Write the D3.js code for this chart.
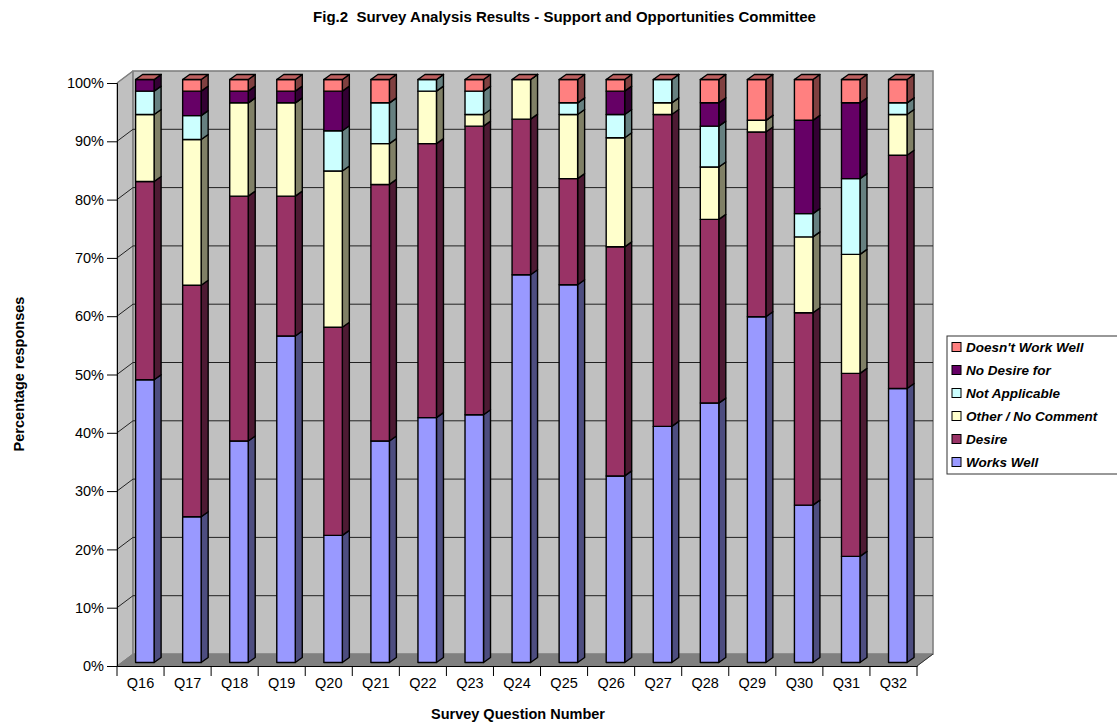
<!DOCTYPE html>
<html><head><meta charset="utf-8">
<script src="https://cdnjs.cloudflare.com/ajax/libs/d3/7.8.5/d3.min.js"></script>
<style>html,body{margin:0;padding:0;background:#fff}svg{display:block}text{font-family:"Liberation Sans",Arial,sans-serif;fill:#000}</style>
</head><body><svg id="c" width="1117" height="725"></svg>
<script>
const questions=["Q16","Q17","Q18","Q19","Q20","Q21","Q22","Q23","Q24","Q25","Q26","Q27","Q28","Q29","Q30","Q31","Q32"];
const worksWell=[48.5,25,38,56,21.8,38,42,42.5,66.5,64.8,32,40.5,44.5,59.3,27,18.2,47];
const desire=[34,39.7,42,24,35.7,44,47,49.5,26.7,18.2,39.3,53.5,31.5,31.7,33,31.4,40];
const otherNoComment=[11.5,25,16,16,26.8,7,9,2,6.8,11,18.7,2,9,2,13,20.4,7];
const notApplicable=[4,4.1,0,0,6.9,7,2,4,0,2,4,4,7,0,4,13,2];
const noDesireFor=[2,4.2,2,2,6.8,0,0,0,0,0,4,0,4,0,16,13,0];
const doesntWorkWell=[0,2,2,2,2,4,0,2,0,4,2,0,4,7,7,4,4];
const seriesNames=["Works Well","Desire","Other / No Comment","Not Applicable","No Desire for","Doesn't Work Well"];
const seriesValues=[worksWell,desire,otherNoComment,notApplicable,noDesireFor,doesntWorkWell];
const faceColors=["#9999FF","#993366","#FFFFCC","#CCFFFF","#660066","#FF8080"];
const sideColors=["#4D4D80","#4D1A33","#808066","#668080","#330033","#804040"];
const topColors=["#7373BF","#732650","#BFBF99","#99BFBF","#4D004D","#BF6060"];
const yTicks=[0,10,20,30,40,50,60,70,80,90,100];

const svg=d3.select("#c");
const L=117,R=917,B=666,T=83,dx=16,dy=12;
const x=d3.scaleBand().domain(questions).range([L,R]);
const y=d3.scaleLinear().domain([0,100]).range([B,T]);
const pts=a=>a.map(p=>p.join(",")).join(" ");

// walls
svg.append("polygon").attr("points",pts([[L,B],[L+dx,B-dy],[L+dx,T-dy],[L,T]])).attr("fill","#C0C0C0").attr("stroke","#808080");
svg.append("polygon").attr("points",pts([[L,B],[R,B],[R+dx,B-dy],[L+dx,B-dy]])).attr("fill","#808080").attr("stroke","#808080");
svg.append("rect").attr("x",L+dx).attr("y",T-dy).attr("width",R-L).attr("height",B-T).attr("fill","#C0C0C0").attr("stroke","#808080").attr("stroke-width",1.6);
// gridlines
const g=svg.append("g");
yTicks.slice(1,-1).forEach(t=>{
  g.append("polyline").attr("points",pts([[L,y(t)],[L+dx,y(t)-dy],[R+dx,y(t)-dy]])).attr("fill","none").attr("stroke","#222").attr("stroke-width",1);
});
g.append("line").attr("x1",L).attr("y1",T).attr("x2",L+dx).attr("y2",T-dy).attr("stroke","#808080").attr("stroke-width",1.5);
svg.append("line").attr("x1",R).attr("y1",B).attr("x2",R+dx).attr("y2",B-dy).attr("stroke","#333");

// bars
const bw=18.5,bd=7,bh=5,ox=18.6,oy=-3.5;
const barsG=svg.append("g").attr("stroke","#000").attr("stroke-width",1.4).attr("stroke-linejoin","round");
questions.forEach((q,i)=>{
  let acc=0;
  const x0=x(q)+ox,x1=x0+bw;
  seriesValues.forEach((vals,s)=>{
    const v=vals[i];
    const y0=y(acc)+oy,y1=y(acc+v)+oy;
    acc+=v;
    barsG.append("polygon").attr("points",pts([[x1,y0],[x1+bd,y0-bh],[x1+bd,y1-bh],[x1,y1]])).attr("fill",sideColors[s]);
    barsG.append("rect").attr("x",x0).attr("y",y1).attr("width",bw).attr("height",y0-y1).attr("fill",faceColors[s]);
    if(s===seriesValues.length-1){
      barsG.append("polygon").attr("points",pts([[x0,y1],[x1,y1],[x1+bd,y1-bh],[x0+bd,y1-bh]])).attr("fill",topColors[s]);
    }
  });
});

// axes
const fmt=d=>d+"%";
const ya=svg.append("g").attr("transform",`translate(${L},0)`).call(d3.axisLeft(y).tickValues(yTicks).tickFormat(fmt).tickSize(10).tickPadding(3));
ya.selectAll("text").attr("font-size",14.5).style("font-family",'"Liberation Sans",Arial,sans-serif');
ya.selectAll("line,path").attr("stroke","#000").attr("stroke-width",1);
const xa=svg.append("g").attr("transform",`translate(0,${B})`).call(d3.axisBottom(x).tickSize(0).tickPadding(12));
xa.selectAll("text").attr("font-size",14.5).style("font-family",'"Liberation Sans",Arial,sans-serif');
xa.select("path").attr("stroke","#000");
xa.selectAll(".bt").data(d3.range(questions.length+1)).enter().append("line").attr("class","bt")
  .attr("x1",i=>L+i*x.step()).attr("x2",i=>L+i*x.step()).attr("y1",0).attr("y2",10).attr("stroke","#000");

// titles
svg.append("text").attr("x",564.5).attr("y",22).attr("text-anchor","middle").attr("font-size",15).attr("font-weight","bold").attr("xml:space","preserve").style("white-space","pre").text("Fig.2  Survey Analysis Results - Support and Opportunities Committee");
svg.append("text").attr("x",518).attr("y",719).attr("text-anchor","middle").attr("font-size",14.5).attr("font-weight","bold").text("Survey Question Number");
svg.append("text").attr("transform","translate(24,374) rotate(-90)").attr("text-anchor","middle").attr("font-size",14.5).attr("font-weight","bold").text("Percentage responses");

// legend
const lg=svg.append("g");
lg.append("rect").attr("x",947).attr("y",336).attr("width",175).attr("height",138).attr("fill","#fff").attr("stroke","#333");
const rev=d3.range(seriesNames.length).reverse();
rev.forEach((s,i)=>{
  const ly=346.5+i*23;
  lg.append("rect").attr("x",952).attr("y",ly-4).attr("width",9).attr("height",9).attr("fill",faceColors[s]).attr("stroke","#000");
  lg.append("text").attr("x",966).attr("y",ly+5).attr("font-size",13.5).attr("font-weight","bold").attr("font-style","italic").text(seriesNames[s]);
});
</script></body></html>
